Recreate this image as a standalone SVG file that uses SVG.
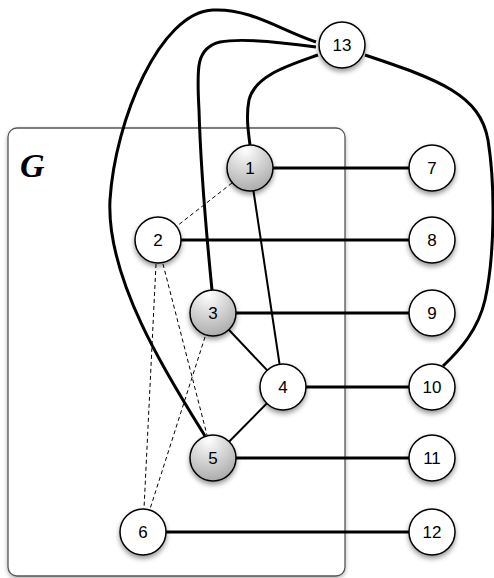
<svg xmlns="http://www.w3.org/2000/svg" width="494" height="578" viewBox="0 0 494 578">
<defs>
<filter id="sh" x="-30%" y="-30%" width="160%" height="170%">
<feDropShadow dx="0" dy="3" stdDeviation="2.5" flood-color="#000" flood-opacity="0.4"/>
</filter>
<filter id="bsh" x="-5%" y="-5%" width="110%" height="110%">
<feDropShadow dx="0" dy="2" stdDeviation="2" flood-color="#000" flood-opacity="0.3"/>
</filter>
<radialGradient id="gr" cx="0.4" cy="0.2" r="0.85" fx="0.4" fy="0.1">
<stop offset="0" stop-color="#ffffff"/>
<stop offset="1" stop-color="#a8a8a8"/>
</radialGradient>
</defs>
<style>
.n{fill:#fff;stroke:#000;stroke-width:1.5;filter:url(#sh)}
.g{fill:url(#gr)}
.t{font-family:"Liberation Sans",Arial,sans-serif;font-size:17px;text-anchor:middle;dominant-baseline:central;fill:#000}
.k{stroke:#000;stroke-width:3;fill:none}
.m{stroke:#000;stroke-width:2;fill:none}
.d{stroke:#000;stroke-width:1;fill:none;stroke-dasharray:4,3}
</style>
<g id="G">
<rect x="8" y="128" width="337" height="448" rx="9" fill="#fff" stroke="#555" stroke-width="1.3" filter="url(#bsh)"/>
<text x="20" y="177" font-family="Liberation Serif,Times New Roman,serif" font-size="34" font-weight="bold" font-style="italic">G</text>
</g>
<g id="edges">
<path class="k" d="M316,42 C280,30 250,8 213,10 C160,12 115,120 110,200 C106,280 170,380 205,436"/>
<path class="k" d="M316,47 C280,42 240,38 220,42 C195,48 197,70 199,110 C201,180 208,250 212,290"/>
<path class="k" d="M318,55 C290,65 255,75 249,100 C246,115 248,130 250,145"/>
<path class="k" d="M365,55 C440,80 480,95 488,140 C496,190 494,260 485,300 C478,330 460,350 443,366"/>
<line class="k" x1="250" y1="168" x2="432" y2="168"/>
<line class="k" x1="158" y1="240" x2="432" y2="240"/>
<line class="k" x1="213" y1="313" x2="432" y2="313"/>
<line class="k" x1="283" y1="387" x2="432" y2="387"/>
<line class="k" x1="213" y1="458" x2="432" y2="458"/>
<line class="k" x1="143" y1="532" x2="432" y2="532"/>
<line class="m" x1="250" y1="168" x2="283" y2="387"/>
<line class="m" x1="213" y1="313" x2="283" y2="387"/>
<line class="m" x1="283" y1="387" x2="213" y2="458"/>
<line class="d" x1="232" y1="183" x2="177" y2="226"/>
<line class="d" x1="163" y1="264" x2="207" y2="435"/>
<line class="d" x1="156" y1="264" x2="144" y2="509"/>
<line class="d" x1="205" y1="337" x2="150" y2="509"/>
</g>
<g id="n13"><circle class="n" cx="342" cy="45" r="23"/><text class="t" x="342" y="45">13</text></g>
<g id="n1"><circle class="n g" cx="250" cy="168" r="23"/><text class="t" x="250" y="168">1</text></g>
<g id="n7"><circle class="n" cx="432" cy="168" r="23"/><text class="t" x="432" y="168">7</text></g>
<g id="n2"><circle class="n" cx="158" cy="240" r="23"/><text class="t" x="158" y="240">2</text></g>
<g id="n8"><circle class="n" cx="432" cy="240" r="23"/><text class="t" x="432" y="240">8</text></g>
<g id="n3"><circle class="n g" cx="213" cy="313" r="23"/><text class="t" x="213" y="313">3</text></g>
<g id="n9"><circle class="n" cx="432" cy="313" r="23"/><text class="t" x="432" y="313">9</text></g>
<g id="n4"><circle class="n" cx="283" cy="387" r="23"/><text class="t" x="283" y="387">4</text></g>
<g id="n10"><circle class="n" cx="432" cy="387" r="23"/><text class="t" x="432" y="387">10</text></g>
<g id="n5"><circle class="n g" cx="213" cy="458" r="23"/><text class="t" x="213" y="458">5</text></g>
<g id="n11"><circle class="n" cx="432" cy="458" r="23"/><text class="t" x="432" y="458">11</text></g>
<g id="n6"><circle class="n" cx="143" cy="532" r="23"/><text class="t" x="143" y="532">6</text></g>
<g id="n12"><circle class="n" cx="432" cy="532" r="23"/><text class="t" x="432" y="532">12</text></g>
</svg>
